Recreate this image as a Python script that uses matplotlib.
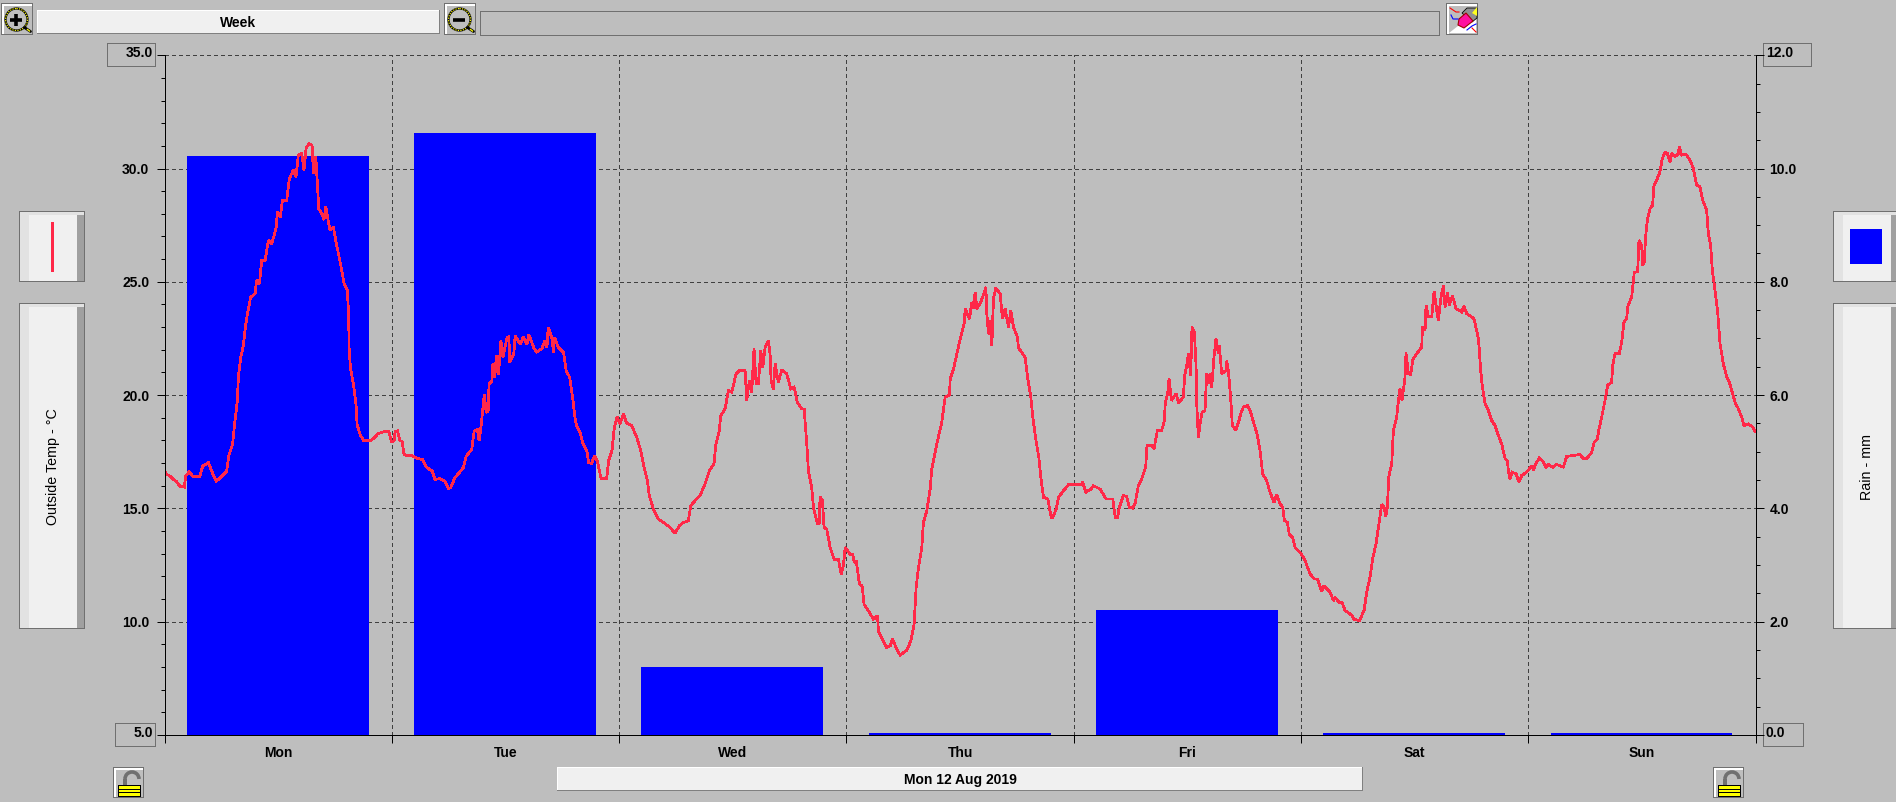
import numpy as np
import matplotlib
matplotlib.use('Agg')
import matplotlib.pyplot as plt
from matplotlib.patches import Rectangle, Circle, Polygon, Arc

plt.rcParams['font.family'] = ['Liberation Sans', 'DejaVu Sans']

# Values
days = ['Mon', 'Tue', 'Wed', 'Thu', 'Fri', 'Sat', 'Sun']
rain_mm = [10.22, 10.63, 1.2, 0.03, 2.2, 0.03, 0.03]
temp_ticks = [5, 10, 15, 20, 25, 30, 35]
rain_ticks = [0, 2, 4, 6, 8, 10, 12]

# (hour of week, outside temp) per day
temp_mon = [(0, 16.65), (.23, 16.5), (.58, 16.43), (.93, 16.28), (1.28, 16.18), (1.63, 15.97), (2.09, 15.94),
            (2.23, 16.43), (2.62, 16.62), (2.97, 16.42), (3.74, 16.42), (4.02, 16.87), (4.62, 17.02), (4.9, 16.73),
            (5.15, 16.47), (5.43, 16.21), (5.85, 16.33), (6.27, 16.53), (6.55, 16.62), (6.76, 17.32), (7.18, 17.83),
            (7.36, 18.64), (7.68, 19.75), (7.78, 20.78), (8.03, 21.67), (8.31, 22.18), (8.52, 22.99), (8.73, 23.58),
            (9.08, 24.32), (9.54, 24.47), (9.71, 25.06), (10.0, 24.91), (10.24, 25.94), (10.6, 25.94), (10.94, 26.83),
            (11.3, 26.68), (11.75, 27.35), (11.9, 28.08), (12.2, 27.86), (12.42, 28.6), (12.88, 28.6), (13.16, 29.56),
            (13.58, 29.93), (13.86, 29.63), (14.1, 30.59), (14.46, 30.66), (14.7, 29.93), (14.92, 30.88), (15.2, 31.1),
            (15.55, 31.03), (15.7, 29.78), (15.94, 30.52), (16.15, 29.04), (16.25, 28.23), (16.57, 28.0), (16.8, 27.74),
            (17.0, 28.33), (17.24, 27.71), (17.45, 27.27), (17.8, 27.42), (18.04, 26.83), (18.33, 26.24), (18.68, 25.5),
            (18.92, 24.91), (19.27, 24.62), (19.41, 23.44), (19.45, 22.11), (19.59, 21.22), (19.9, 20.49), (20.18, 19.6),
            (20.29, 18.72), (20.6, 18.27), (20.96, 18.01), (21.66, 17.98), (22.08, 18.1), (22.5, 18.3), (23.07, 18.38),
            (23.63, 18.39), (23.91, 17.95)]
temp_tue = [(24.19, 17.98), (24.3, 18.39), (24.54, 18.42), (24.82, 17.98), (25.03, 17.98), (25.24, 17.39), (25.52, 17.32),
            (25.94, 17.35), (26.58, 17.21), (27.2, 17.15), (27.64, 16.8), (28.2, 16.65), (28.5, 16.28), (29.03, 16.31),
            (29.56, 16.2), (29.9, 15.87), (30.16, 15.91), (30.6, 16.36), (30.97, 16.53), (31.5, 16.8), (31.78, 17.29),
            (32.38, 17.61), (32.63, 18.42), (32.98, 18.48), (33.15, 17.98), (33.36, 18.64), (33.7, 20.04), (33.9, 19.23),
            (34.1, 19.31), (34.2, 20.49), (34.5, 20.63), (34.6, 21.37), (34.8, 20.78), (34.97, 21.74), (35.2, 20.93),
            (35.45, 22.4), (35.66, 21.67), (36.1, 22.55), (36.3, 22.58), (36.35, 21.45), (36.8, 21.8), (36.95, 22.6),
            (37.5, 22.25), (37.8, 22.55), (38.2, 22.25), (38.4, 22.67), (38.9, 22.1), (39.2, 21.9), (39.75, 22.04),
            (40.1, 22.4), (40.3, 22.1), (40.43, 22.99), (40.8, 22.55), (41, 21.89), (41.1, 22.55), (41.5, 22.1),
            (42.05, 21.89), (42.33, 21.08), (42.7, 20.78), (43, 19.9), (43.3, 18.86), (43.45, 18.64), (43.8, 18.35),
            (44.05, 17.9), (44.5, 17.54), (44.7, 17.02), (45.0, 16.98), (45.3, 17.32), (45.6, 17.1), (46, 16.33),
            (46.6, 16.33), (46.8, 17.1), (47.15, 17.54), (47.4, 18.57), (47.7, 19.04)]
temp_wed = [(48.0, 18.72), (48.35, 19.17), (48.7, 18.76), (49.23, 18.65), (49.76, 18.14), (50.18, 17.55), (50.53, 16.81),
            (50.88, 16.22), (51.09, 15.56), (51.51, 14.97), (52.04, 14.53), (52.57, 14.38), (53.27, 14.16), (53.8, 13.9),
            (54.25, 14.23), (54.68, 14.38), (55.2, 14.45), (55.45, 15.12), (55.9, 15.34), (56.43, 15.56), (56.96, 16.08),
            (57.42, 16.66), (57.9, 16.96), (58.08, 17.77), (58.47, 18.43), (58.6, 19.09), (59.07, 19.39), (59.42, 20.2),
            (59.77, 20.12), (60.23, 20.94), (60.58, 21.08), (61.18, 21.08), (61.35, 19.76), (61.63, 20.64), (61.88, 20.12),
            (62.12, 22.04), (62.34, 20.49), (62.58, 20.49), (62.83, 21.97), (63.04, 21.23), (63.28, 22.08), (63.64, 22.41),
            (63.81, 21.82), (63.92, 20.64), (64.16, 20.27), (64.34, 21.38), (64.69, 20.57), (65.04, 21.11), (65.57, 20.94),
            (65.99, 20.27), (66.34, 20.35), (66.69, 19.68), (67.15, 19.39), (67.4, 19.39), (67.68, 17.84), (67.85, 16.66),
            (68.2, 15.93), (68.38, 15.04), (68.8, 14.31), (68.98, 14.31), (69.08, 15.52), (69.33, 15.34), (69.5, 14.16),
            (69.78, 14.09), (70.14, 13.28), (70.56, 12.76), (71.01, 12.76), (71.3, 12.1), (71.54, 12.47), (71.72, 13.28)]
temp_thu = [(72.24, 12.98), (72.53, 12.98), (72.67, 12.61), (72.88, 12.69), (73.23, 11.66), (73.51, 11.58), (73.72, 10.77),
            (74.18, 10.48), (74.7, 10.11), (75.13, 10.26), (75.23, 9.59), (75.58, 9.3), (76.1, 8.86), (76.46, 8.93),
            (76.7, 9.23), (77.16, 8.79), (77.51, 8.53), (78.22, 8.74), (78.64, 9.15), (78.99, 9.89), (79.2, 11.51),
            (79.45, 12.39), (79.8, 13.28), (79.97, 14.38), (80.33, 14.9), (80.68, 15.85), (80.85, 16.74), (81.1, 17.25),
            (81.38, 17.84), (81.9, 18.8), (82.26, 19.9), (82.72, 20), (82.79, 20.71), (83.14, 21.16), (83.49, 21.82),
            (83.84, 22.48), (84.26, 23.14), (84.37, 23.81), (84.82, 23.37), (85.07, 24.1), (85.25, 23.81), (85.42, 24.54),
            (85.6, 23.81), (86.02, 24.1), (86.55, 24.76), (86.65, 23.59), (86.83, 22.7), (87, 23.3), (87.18, 22.19),
            (87.35, 24.25), (87.6, 24.73), (88.06, 24.47), (88.3, 23.37), (88.58, 23.81), (88.93, 23), (89.18, 23.73),
            (89.46, 23), (89.88, 22.56), (89.99, 22.08), (90.69, 21.67), (90.94, 20.79), (91.29, 19.9), (91.5, 19.02),
            (91.78, 18.14), (92.13, 17.25), (92.34, 16.37), (92.62, 15.49), (93.08, 15.41), (93.43, 14.6), (93.61, 14.6),
            (93.96, 14.97), (94.2, 15.49), (94.73, 15.78), (95.26, 16.05)]
temp_fri = [(96.67, 16.05), (96.73, 16.19), (97.09, 15.71), (97.61, 15.85), (97.89, 16), (98.6, 15.85), (99.23, 15.41),
            (99.93, 15.41), (100.18, 14.6), (100.42, 14.6), (100.62, 15.05), (101.04, 15.57), (101.39, 15.52), (101.67, 15.05),
            (102.02, 15.01), (102.27, 15.2), (102.62, 16.01), (102.97, 16.3), (103.39, 16.82), (103.53, 17.78), (104.02, 17.78),
            (104.27, 17.63), (104.62, 18.44), (105.08, 18.44), (105.36, 18.88), (105.46, 19.69), (105.71, 20.06), (105.85, 20.72),
            (106.1, 19.76), (106.59, 20.06), (106.87, 19.65), (107.36, 19.91), (107.5, 20.87), (107.71, 21.31), (107.89, 21.83),
            (108.13, 20.87), (108.27, 23.0), (108.52, 22.78), (108.7, 21.31), (108.77, 19.62), (108.94, 18.14), (109.12, 18.73),
            (109.33, 19.25), (109.64, 19.32), (109.82, 20.94), (110.0, 20.5), (110.17, 20.94), (110.35, 20.35), (110.59, 21.68),
            (110.8, 22.49), (111.05, 21.83), (111.15, 22.19), (111.4, 20.94), (111.86, 21.09), (111.93, 21.5), (112.1, 21.09),
            (112.35, 19.84), (112.52, 18.66), (112.88, 18.44), (113.23, 18.88), (113.4, 19.18), (113.68, 19.47), (114.14, 19.54),
            (114.39, 19.32), (114.81, 18.73), (115.16, 18.22), (115.44, 17.55), (115.72, 16.52), (116.14, 16.23), (116.49, 15.71),
            (116.91, 15.27), (117.2, 15.61), (117.55, 15.2), (117.83, 15.05), (118.0, 14.46), (118.32, 14.39), (118.53, 13.83),
            (118.88, 13.73), (119.13, 13.28), (119.65, 13.06)]
temp_sat = [(120.08, 12.81), (120.71, 12.11), (121.13, 11.89), (121.48, 11.89), (121.94, 11.34), (122.18, 11.59), (122.82, 11.3),
            (123.17, 10.93), (123.34, 11.07), (123.8, 10.85), (124.08, 10.85), (124.4, 10.49), (125.1, 10.29), (125.35, 10.11),
            (125.91, 10.04), (126.4, 10.49), (126.68, 11.3), (127.03, 11.96), (127.31, 12.77), (127.66, 13.43), (128.01, 14.46),
            (128.26, 15.17), (128.51, 15.05), (128.68, 14.64), (128.86, 15.05), (129.0, 16.38), (129.32, 16.97), (129.49, 18.44),
            (129.84, 19.03), (130.02, 19.76), (130.19, 20.28), (130.4, 19.76), (130.72, 20.8), (130.82, 21.86), (131.07, 20.94),
            (131.32, 20.91), (131.53, 21.56), (131.95, 21.83), (132.48, 22.12), (132.55, 23.0), (132.83, 22.86), (132.93, 23.96),
            (133.18, 23.45), (133.53, 23.45), (133.78, 24.58), (134.06, 23.74), (134.23, 23.3), (134.51, 24.33), (134.76, 24.82),
            (134.94, 23.89), (135.18, 24.52), (135.39, 23.96), (135.71, 24.4), (136.09, 23.81), (136.69, 23.67), (136.94, 23.92),
            (137.22, 23.59), (137.74, 23.45), (137.99, 23.37), (138.45, 22.49), (138.55, 21.97), (138.69, 21.09), (138.83, 20.5),
            (139.15, 19.62), (139.5, 19.32), (139.85, 18.88), (140.2, 18.66), (140.55, 18.22), (140.9, 17.85), (141.26, 17.19),
            (141.5, 17.11), (141.61, 16.67), (141.78, 16.3), (141.99, 16.6), (142.42, 16.52), (142.73, 16.16), (143.01, 16.45),
            (143.54, 16.6)]
temp_sun = [(144.07, 16.89), (144.24, 16.7), (144.49, 16.97), (144.88, 17.23), (145.23, 17.08), (145.58, 16.79), (145.82, 16.94),
            (146.28, 16.82), (146.7, 16.94), (147.4, 16.82), (147.75, 17.29), (148.28, 17.33), (149.16, 17.38), (149.51, 17.19),
            (149.86, 17.19), (150.39, 17.48), (150.64, 17.92), (150.99, 18.07), (151.16, 18.51), (151.44, 19.03), (151.79, 19.76),
            (152.07, 20.43), (152.49, 20.57), (152.6, 21.31), (152.84, 21.83), (153.3, 21.83), (153.55, 22.34), (153.79, 23.23),
            (154.07, 23.37), (154.18, 23.89), (154.6, 24.33), (154.77, 25), (154.88, 25.43), (155.23, 25.43), (155.37, 26.83),
            (155.65, 26.61), (155.76, 25.73), (155.93, 25.88), (156.07, 26.98), (156.25, 27.72), (156.53, 28.23), (156.81, 28.38),
            (156.95, 29.26), (157.23, 29.48), (157.58, 29.85), (157.83, 30.44), (158.11, 30.71), (158.36, 30.66), (158.64, 30.29),
            (158.81, 30.66), (159.17, 30.52), (159.52, 30.66), (159.62, 30.96), (159.87, 30.59), (160.32, 30.63), (160.75, 30.37),
            (161.1, 30), (161.45, 29.26), (161.8, 29.19), (162.08, 28.6), (162.5, 28.16), (162.68, 27.13), (162.92, 26.61),
            (163.1, 25.51), (163.38, 24.62), (163.66, 23.67), (163.91, 22.27), (164.26, 21.38), (164.61, 20.8), (164.89, 20.57),
            (165.24, 20.06), (165.49, 19.69), (165.84, 19.4), (166.19, 19.03), (166.44, 18.66), (166.89, 18.73), (167.35, 18.59),
            (167.63, 18.39)]

BG = '#bebebe'
RED = '#ff2848'
BLUE = '#0000ff'
W, H = 1896, 802
L, R, T, B = 164.5, 1755.7, 55.2, 735.0
# the logger's week is a touch under 168h on the screen
WEEK = 167.67
day_len = WEEK / 7

fig = plt.figure(figsize=(W / 100, H / 100), dpi=100, facecolor=BG)

# window furniture in pixel coordinates
ui = fig.add_axes([0, 0, 1, 1], zorder=0)
ui.set_xlim(0, W)
ui.set_ylim(H, 0)
ui.axis('off')


def rect(x0, y0, x1, y1, **kw):
    kw.setdefault('linewidth', 0)
    ui.add_patch(Rectangle((x0, y0), x1 - x0, y1 - y0, antialiased=False, **kw))


def bar_button(x0, y0, x1, y1, text=None):
    rect(x0, y0, x1, y1, facecolor='#808080')
    rect(x0, y0, x1 - 1, y1 - 1, facecolor='white')
    rect(x0 + 1, y0 + 1, x1 - 1, y1 - 1, facecolor='#f0f0f0')
    if text:
        ui.text((x0 + x1) / 2, (y0 + y1) / 2 + 0.7, text, ha='center', va='center', fontsize=10, fontweight='bold')


def icon_button(x0, y0, x1, y1):
    rect(x0, y0, x1, y1, facecolor='#707070')
    rect(x0 + 1, y0 + 1, x1 - 1, y1 - 1, facecolor='white')
    rect(x0 + 3, y0 + 3, x1 - 1, y1 - 1, facecolor=BG)


def side_panel(x0, y0, x1, y1, text=None):
    rect(x0, y0, x1, y1, facecolor='#707070')
    rect(x0 + 1, y0 + 1, x1 - 1, y1 - 1, facecolor='#e2e2e2')
    rect(x0 + 10, y0 + 4, x1 - 8, y1 - 1, facecolor='#f0f0f0')
    rect(x1 - 8, y0 + 4, x1 - 1, y1 - 1, facecolor='#a0a0a0')
    if text:
        ui.text((x0 + x1) / 2 + 1, 467, text, rotation=90, ha='center', va='center', fontsize=10.3)


def magnifier(cx, cy, plus):
    ui.add_patch(Circle((cx, cy), 11, facecolor=BG, edgecolor='black', linewidth=1.6))
    ui.add_patch(Circle((cx, cy), 11, fill=False, edgecolor='#f0f000', linewidth=0.9, linestyle=(0, (1, 1))))
    ui.plot([cx + 8, cx + 14], [cy + 8, cy + 12], color='black', lw=2, solid_capstyle='round')
    ui.plot([cx + 11, cx + 13], [cy + 10, cy + 11.5], color='#f0f000', lw=1)
    ui.plot([cx - 6, cx + 6], [cy, cy], color='black', lw=2.6, solid_capstyle='butt')
    if plus:
        ui.plot([cx, cx], [cy - 6, cy + 6], color='black', lw=2.6, solid_capstyle='butt')


def lock(x0, y0):
    icon_button(x0, y0, x0 + 31, y0 + 31)
    ui.add_patch(Arc((x0 + 19, y0 + 12), 14, 14, theta1=180, theta2=360, edgecolor='#707070', linewidth=2.6))
    rect(x0 + 10, y0 + 12, x0 + 14, y0 + 19, facecolor='#707070')
    rect(x0 + 5, y0 + 18, x0 + 28, y0 + 30, facecolor='black')
    rect(x0 + 6, y0 + 19, x0 + 27, y0 + 29, facecolor='#ffff00')
    rect(x0 + 6, y0 + 22, x0 + 27, y0 + 23, facecolor='black')
    rect(x0 + 6, y0 + 25, x0 + 27, y0 + 26, facecolor='black')


def outline(x0, y0, x1, y1):
    ui.add_patch(Rectangle((x0, y0), x1 - x0, y1 - y0, fill=False, edgecolor='#707070', linewidth=0.72, antialiased=False))


# toolbar
icon_button(1, 3, 33, 35)
magnifier(16.5, 19.5, True)
bar_button(37, 10, 440, 34, 'Week')
icon_button(444, 3, 476, 35)
magnifier(459.5, 19.5, False)
outline(480.5, 10.5, 1439.5, 34.5)

# eraser icon
icon_button(1446, 3, 1478, 35)
ui.add_patch(Polygon([(1449, 33), (1476, 33), (1476, 12)], facecolor='white', linewidth=0))
ui.plot([1450, 1456, 1459], [8, 12, 12], color='red', lw=0.8)
ui.plot([1451, 1453, 1458], [15, 19, 19], color='blue', lw=0.8)
ui.plot([1467, 1472, 1476], [30, 26, 24], color='blue', lw=0.8)
ui.plot([1472, 1476], [28, 32], color='red', lw=0.8)
ui.add_patch(Polygon([(1467, 8), (1477, 8), (1477, 18), (1472, 22), (1462, 13)], facecolor='#909090', edgecolor='black', linewidth=0.6))
ui.add_patch(Polygon([(1472, 13), (1477, 7), (1477, 16)], facecolor='#ffff20', linewidth=0))
ui.add_patch(Polygon([(1459, 19), (1466, 13), (1473, 21), (1464, 28), (1458, 25)], facecolor='#ff10a0', edgecolor='#a00000', linewidth=0.8))

# side panels
side_panel(19.5, 211, 85.5, 282)
rect(51, 222, 54, 272, facecolor=RED)
side_panel(19.5, 302.5, 85.5, 629, 'Outside Temp - °C')
side_panel(1833, 211, 1899, 282)
rect(1850, 229, 1882, 264, facecolor=BLUE)
side_panel(1833, 302.5, 1899, 629, 'Rain - mm')

# bottom row
lock(113, 767)
lock(1713, 767)
bar_button(557, 767, 1363, 791, 'Mon 12 Aug 2019')

# boxes round the scale ends
for x0, x1, y0, y1, txt, tx, ha in [(107.5, 155.5, 42.5, 65.5, '35.0', 153, 'right'),
                                    (115.5, 155.5, 722.5, 745.5, '5.0', 153, 'right'),
                                    (1763.5, 1811.5, 42.5, 65.5, '12.0', 1766, 'left'),
                                    (1763.5, 1803.5, 722.5, 745.5, '0.0', 1766, 'left')]:
    outline(x0, y0, x1, y1)
    ui.text(tx, (y0 + y1) / 2 - 1, txt, ha=ha, va='center', fontsize=10, fontweight='bold')

# rain goes on the lower axes so the temperature line stays on top
rect_ax = [L / W, 1 - B / H, (R - L) / W, (B - T) / H]
ax_rain = fig.add_axes(rect_ax, zorder=1)
ax_rain.patch.set_visible(False)
ax_temp = fig.add_axes(rect_ax, zorder=2)
ax_temp.patch.set_visible(False)

centres = (np.arange(7) + 0.5) * day_len
edges = np.arange(8) * day_len
ax_rain.bar(centres - 0.05, rain_mm, width=0.8 * day_len, color=BLUE, antialiased=False, zorder=3)
ax_rain.set_xlim(0, WEEK)
ax_rain.set_ylim(0, 12)

grid = dict(color='#404040', linewidth=0.72, linestyle=(0, (4, 3)), antialiased=False)
for v in rain_ticks[1:]:
    ax_rain.axhline(v, clip_on=False, zorder=1, **grid)
for e in edges[1:-1]:
    ax_rain.axvline(e, zorder=1, **grid)

ax_rain.yaxis.tick_right()
ax_rain.set_yticks(rain_ticks, [''] + ['%.1f' % v for v in rain_ticks[1:-1]] + [''], fontsize=10, fontweight='bold')
ax_rain.set_yticks(np.arange(0, 12.1, 0.5), minor=True)
ax_rain.tick_params(axis='y', which='major', length=6, width=0.72, pad=4)
ax_rain.tick_params(axis='y', which='minor', length=3, width=0.72)
ax_rain.set_xticks([])

temp = np.array(temp_mon + temp_tue + temp_wed + temp_thu + temp_fri + temp_sat + temp_sun)
ax_temp.plot(temp[:, 0], temp[:, 1], color=RED, linewidth=1.25, antialiased=False, solid_joinstyle='miter')
ax_temp.set_xlim(0, WEEK)
ax_temp.set_ylim(5, 35)
ax_temp.set_yticks(temp_ticks, [''] + ['%.1f' % v for v in temp_ticks[1:-1]] + [''], fontsize=10, fontweight='bold')
ax_temp.set_yticks(np.arange(5, 35.1, 1), minor=True)
ax_temp.tick_params(axis='y', which='major', length=6, width=0.72, pad=5)
ax_temp.tick_params(axis='y', which='minor', length=3, width=0.72)
ax_temp.set_xticks(edges, [])
ax_temp.set_xticks(centres, days, minor=True, fontsize=10, fontweight='bold')
ax_temp.tick_params(axis='x', which='major', length=6, width=0.72)
ax_temp.tick_params(axis='x', which='minor', length=0, pad=8)

for a in (ax_temp, ax_rain):
    a.spines['top'].set_visible(False)
    a.spines['left'].set_linewidth(0.72)
    a.spines['right'].set_linewidth(0.72)
    a.spines['bottom'].set_linewidth(0.72)

fig.savefig('out.png', dpi=100, facecolor=BG)
